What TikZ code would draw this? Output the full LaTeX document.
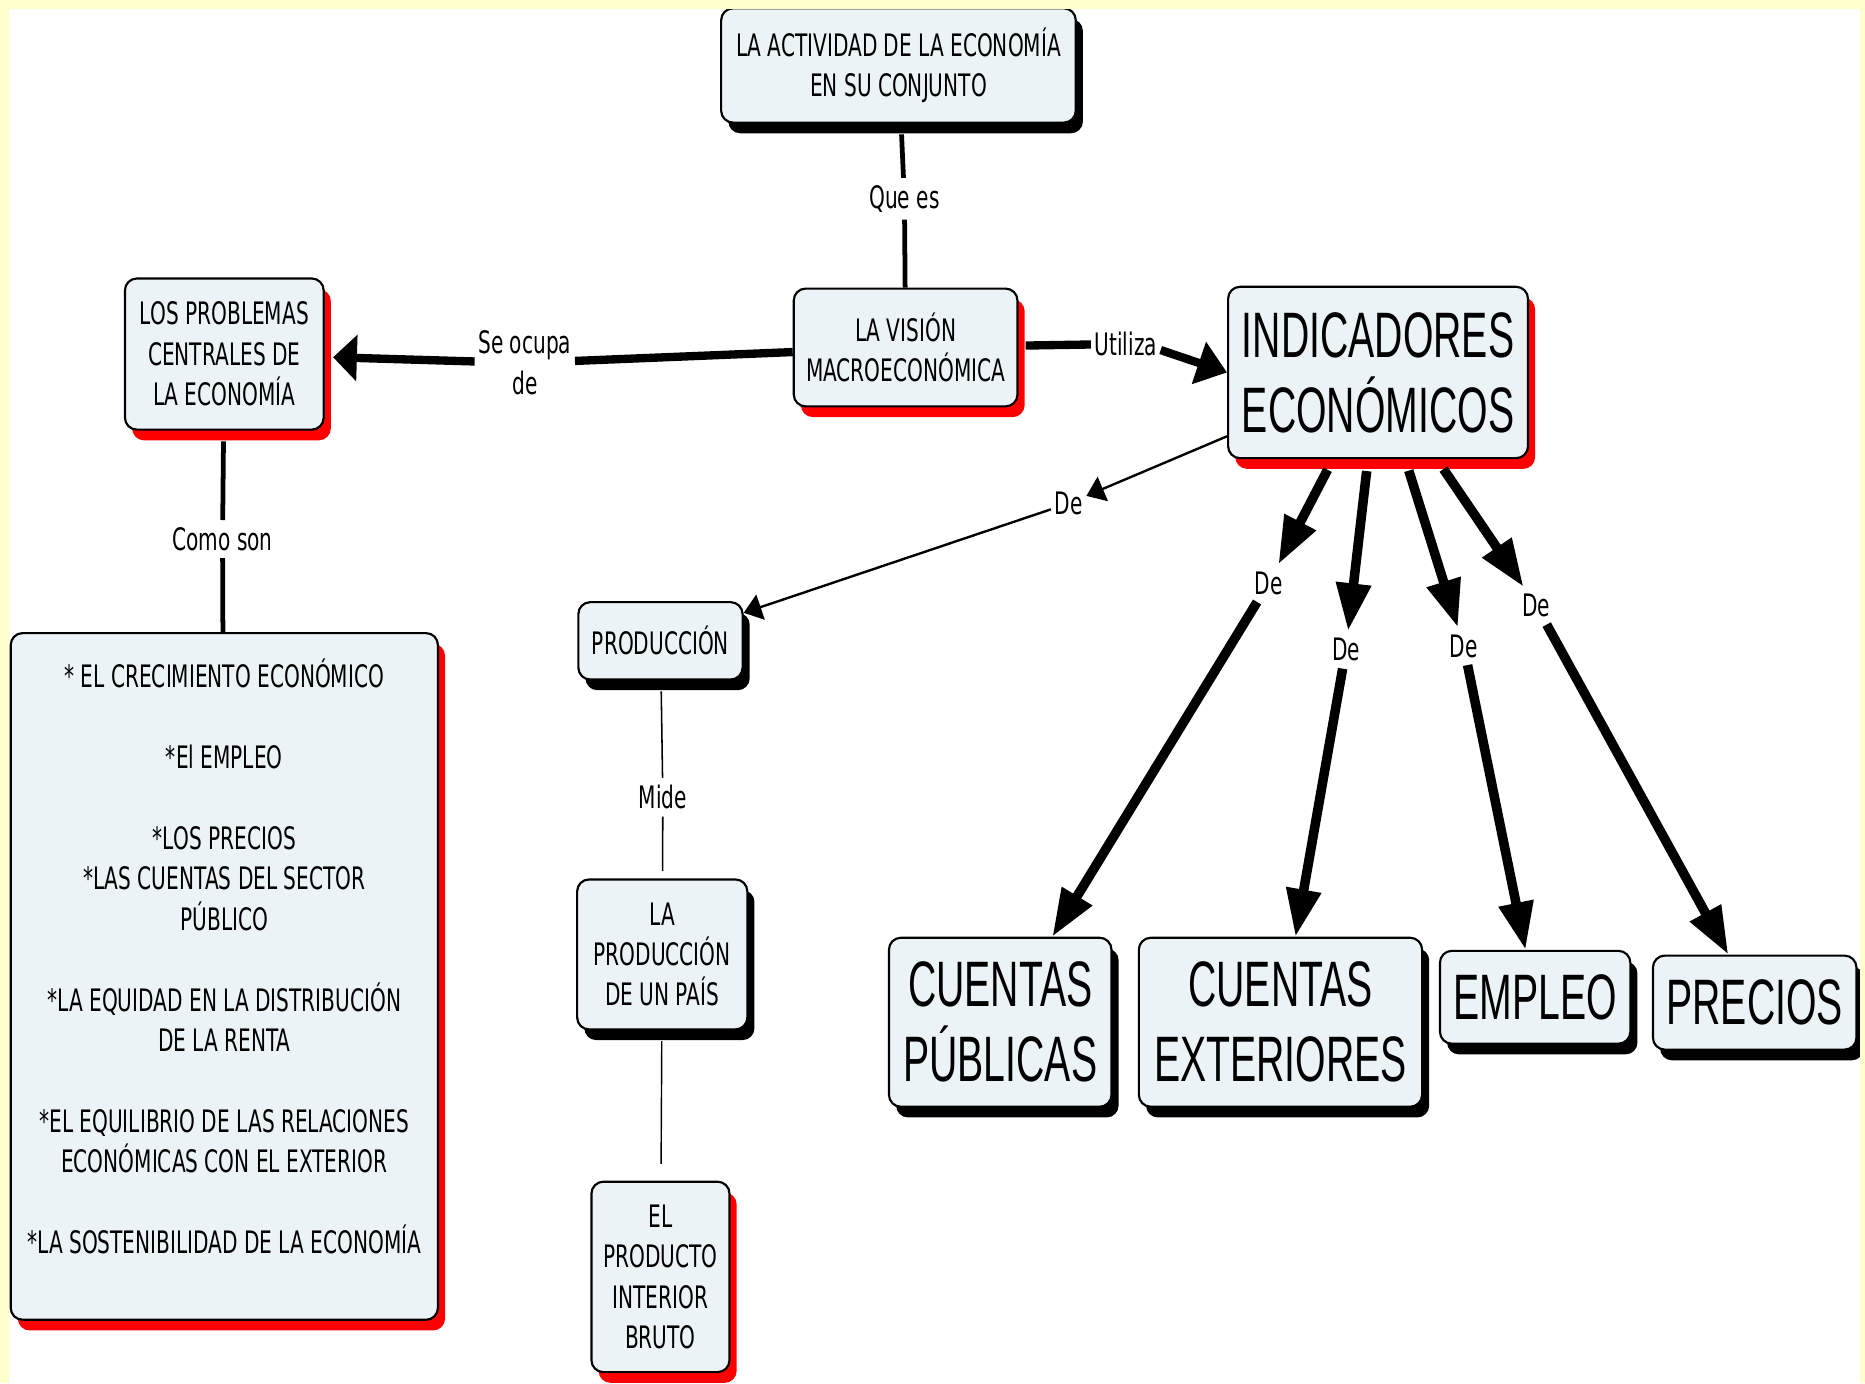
\documentclass[tikz,border=0pt]{standalone}
\usepackage{fontspec}
\usetikzlibrary{arrows.meta,shadows}
\newfontfamily\mapfont[FakeStretch=0.65]{DejaVu Sans}
\newfontfamily\bigfont[FakeStretch=0.61]{Liberation Sans}
\definecolor{marco}{HTML}{FFFFCC}
\definecolor{relleno}{HTML}{EBF3F6}
\tikzset{
  concepto/.style={rectangle, rounded corners=10pt, draw=black, line width=1.8pt, fill=relleno, align=center, inner sep=0pt, font=\mapfont\fontsize{26}{34}\selectfont},
  grande/.style={concepto, font=\bigfont\fontsize{54}{63}\selectfont},
  sombranegra/.style={drop shadow={shadow xshift=6pt, shadow yshift=-9pt, fill=black, draw=none, opacity=1}},
  sombraroja/.style={drop shadow={shadow xshift=6pt, shadow yshift=-9pt, fill=red, draw=none, opacity=1}},
  enlace/.style={inner xsep=3pt, inner ysep=6pt, align=center, font=\mapfont\fontsize{26}{34}\selectfont},
  gruesa/.style={line width=8pt, -{Triangle[length=40pt,width=28pt]}}
}

\begin{document}
\begin{tikzpicture}[x=1pt, y=-1pt]
        \useasboundingbox (0,0) rectangle (1567.2,1162.2);
        \fill[white] (0,0) rectangle (1567.2,1162.2);

        \node (actividad) [concepto, sombranegra, minimum width=298pt, minimum height=96pt] at (755,55) {LA ACTIVIDAD DE LA ECONOMÍA\\EN SU CONJUNTO};
        \node (vision) [concepto, sombraroja, minimum width=188pt, minimum height=99pt] at (761,292) {LA VISIÓN\\MACROECONÓMICA};
        \node (problemas) [concepto, sombraroja, minimum width=167pt, minimum height=127pt] at (188.5,297.5) {LOS PROBLEMAS\\CENTRALES DE\\LA ECONOMÍA};
        \node (indicadores) [grande, sombraroja, minimum width=252pt, minimum height=144pt] at (1158,313) {INDICADORES\\ECONÓMICOS};
        \node (lista) [concepto, sombraroja, minimum width=359pt, minimum height=577pt] at (188.5,820.5) {* EL CRECIMIENTO ECONÓMICO\\[34pt]*El EMPLEO\\[34pt]*LOS PRECIOS\\*LAS CUENTAS DEL SECTOR\\PÚBLICO\\[34pt]*LA EQUIDAD EN LA DISTRIBUCIÓN\\DE LA RENTA\\[34pt]*EL EQUILIBRIO DE LAS RELACIONES\\ECONÓMICAS CON EL EXTERIOR\\[34pt]*LA SOSTENIBILIDAD DE LA ECONOMÍA\\ \mbox{}};
        \node (produccion) [concepto, sombranegra, minimum width=138pt, minimum height=65pt] at (555,538.5) {PRODUCCIÓN};
        \node (pais) [concepto, sombranegra, minimum width=143pt, minimum height=126pt] at (556.5,802) {LA\\PRODUCCIÓN\\DE UN PAÍS};
        \node (pib) [concepto, sombraroja, minimum width=116pt, minimum height=160pt] at (555,1073) {EL\\PRODUCTO\\INTERIOR\\BRUTO};
        \node (publicas) [grande, sombranegra, minimum width=187pt, minimum height=142pt] at (840.5,859) {CUENTAS\\PÚBLICAS};
        \node (exteriores) [grande, sombranegra, minimum width=238pt, minimum height=142pt] at (1076,859) {CUENTAS\\EXTERIORES};
        \node (empleo) [grande, sombranegra, minimum width=160pt, minimum height=78pt] at (1290,838) {EMPLEO};
        \node (precios) [grande, sombranegra, minimum width=171pt, minimum height=79pt] at (1474.5,842.5) {PRECIOS};

        \node (quees) [enlace] at (760,167) {Que es};
        \node (seocupa) [enlace] at (441,305) {Se ocupa\\de};
        \node (utiliza) [enlace] at (946,289) {Utiliza};
        \node (comoson) [enlace] at (187,453) {Como son};
        \node (deprod) [enlace] at (898,423) {De};
        \node (depub) [enlace] at (1066,490) {De};
        \node (deext) [enlace] at (1131,546) {De};
        \node (deemp) [enlace] at (1230,543) {De};
        \node (depre) [enlace] at (1291,509) {De};
        \node (mide) [enlace] at (557,670) {Mide};

        \draw[line width=4pt, shorten <=9pt] (actividad) -- (quees);
        \draw[line width=4pt] (quees) -- (vision);

        \draw[line width=7pt] (vision) -- (seocupa);
        \draw[line width=7pt, -{Triangle[length=20pt,width=38pt]}, shorten >=7pt] (seocupa) -- (problemas);

        \draw[line width=7pt, shorten <=6pt] (vision) -- (utiliza);
        \draw[line width=7pt, -{Triangle[length=25pt,width=36pt]}] (utiliza.-10) -- (indicadores.west);

        \draw[line width=4pt, shorten <=9pt] (problemas) -- (comoson);
        \draw[line width=4pt] (comoson) -- (lista);

        \draw[line width=2pt, -{Triangle[length=15pt,width=22pt]}] (indicadores) -- (deprod);
        \draw[line width=2pt, -{Triangle[length=15pt,width=22pt]}] (deprod) -- (produccion);

        \draw[gruesa, shorten <=10pt] (indicadores) -- (depub);
        \draw[gruesa] (depub) -- (publicas);
        \draw[gruesa, shorten <=10pt] (indicadores) -- (deext);
        \draw[gruesa] (deext) -- (exteriores);
        \draw[gruesa, shorten <=10pt] (indicadores) -- (deemp);
        \draw[gruesa] (deemp) -- (empleo);
        \draw[gruesa, shorten <=10pt] (indicadores) -- (depre);
        \draw[gruesa] (depre) -- (precios);

        \draw[line width=1.3pt, shorten <=9pt] (produccion) -- (mide);
        \draw[line width=1.3pt, shorten >=6pt] (mide) -- (pais);
        \draw[line width=1.2pt, shorten <=9pt, shorten >=14pt] (pais) -- (pib);

        \fill[marco] (0,0) rectangle (1567.2,7.8);
        \fill[marco] (0,0) rectangle (7.5,1162.2);
        \fill[marco] (1563,0) rectangle (1567.2,1162.2);

    \end{tikzpicture}
\end{document}
